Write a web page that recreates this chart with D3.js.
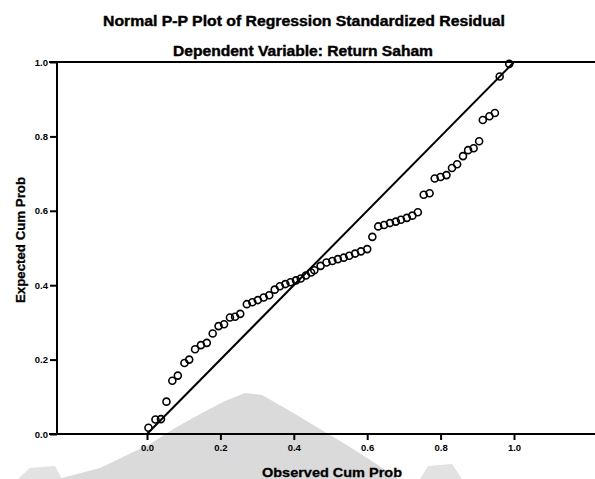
<!DOCTYPE html>
<html>
<head>
<meta charset="utf-8">
<script src="https://cdn.jsdelivr.net/npm/d3@7"></script>
<style>
  html, body { margin: 0; padding: 0; background: #fff; }
  svg { display: block; }
  text { font-family: "Liberation Sans", Arial, sans-serif; font-weight: bold; fill: #000; }
</style>
</head>
<body>
<svg id="chart" width="595" height="479"></svg>
<script>
// ---- Data ----
const titleLines = ["Normal P-P Plot of Regression Standardized Residual", "Dependent Variable: Return Saham"];
const xLabel = "Observed Cum Prob";
const yLabel = "Expected Cum Prob";
const xTicks = [0, 0.2, 0.4, 0.6, 0.8, 1.0];
const yTicks = [0, 0.2, 0.4, 0.6, 0.8, 1.0];
const observed = [0.004,0.023,0.038,0.053,0.069,0.084,0.102,0.115,0.131,0.147,0.163,0.179,0.195,0.210,0.226,0.240,0.254,0.272,0.287,0.302,0.318,0.333,0.348,0.362,0.377,0.391,0.406,0.419,0.433,0.447,0.456,0.473,0.489,0.505,0.520,0.536,0.551,0.567,0.583,0.600,0.614,0.630,0.646,0.662,0.678,0.692,0.708,0.723,0.738,0.754,0.770,0.784,0.800,0.816,0.831,0.845,0.861,0.875,0.890,0.905,0.915,0.933,0.948,0.961,0.987];
const expected = [0.017,0.039,0.040,0.087,0.143,0.157,0.191,0.200,0.228,0.239,0.245,0.270,0.290,0.295,0.313,0.315,0.323,0.349,0.354,0.360,0.367,0.373,0.388,0.397,0.403,0.408,0.413,0.418,0.426,0.434,0.440,0.452,0.461,0.465,0.470,0.474,0.479,0.485,0.491,0.497,0.530,0.558,0.562,0.567,0.571,0.576,0.581,0.587,0.596,0.643,0.647,0.687,0.691,0.696,0.715,0.725,0.747,0.763,0.768,0.787,0.844,0.854,0.863,0.961,0.995];

const svg = d3.select("#chart");

// scales
const x = d3.scaleLinear().domain([0, 1]).range([147, 514]);
const y = d3.scaleLinear().domain([0, 1]).range([434, 62]);
const plotLeft = 57, plotRight = 600;

// faint watermark shape behind the plot (scan background)
svg.append("path")
  .attr("d", "M58,479 L100,468 L150,444 L175,428 L200,414 L225,401 L245,393 L262,395 L290,411 L320,429 L350,447 L378,465 L398,479 Z")
  .attr("fill", "#dadada");
svg.append("path").attr("d", "M18,479 L30,468 L55,466 L62,479 Z").attr("fill", "#e2e2e2");
svg.append("path").attr("d", "M420,479 L428,466 L452,464 L462,479 Z").attr("fill", "#e2e2e2");

// titles
svg.append("text").attr("x", 304).attr("y", 26).attr("text-anchor", "middle")
  .attr("font-size", 14).attr("textLength", 402).attr("lengthAdjust", "spacingAndGlyphs")
  .attr("stroke", "#000").attr("stroke-width", 0.4)
  .text(titleLines[0]);
svg.append("text").attr("x", 303).attr("y", 56).attr("text-anchor", "middle")
  .attr("font-size", 14).attr("textLength", 260).attr("lengthAdjust", "spacingAndGlyphs")
  .attr("stroke", "#000").attr("stroke-width", 0.4)
  .text(titleLines[1]);

// frame lines
svg.append("line").attr("x1", 49).attr("x2", plotRight).attr("y1", y(1)).attr("y2", y(1))
  .attr("stroke", "#000").attr("stroke-width", 2);
svg.append("line").attr("x1", 49).attr("x2", plotRight).attr("y1", y(0)).attr("y2", y(0))
  .attr("stroke", "#000").attr("stroke-width", 2);
svg.append("line").attr("x1", plotLeft).attr("x2", plotLeft).attr("y1", y(1)).attr("y2", y(0))
  .attr("stroke", "#000").attr("stroke-width", 2);

// x axis
const gx = svg.append("g").attr("transform", `translate(0,${y(0)})`)
  .call(d3.axisBottom(x).tickValues(xTicks).tickFormat(d3.format(".1f")).tickSize(6).tickPadding(4));
gx.select(".domain").remove();
gx.selectAll("line").attr("stroke", "#000").attr("stroke-width", 2);
gx.selectAll("text").attr("font-size", 9.5).attr("font-family", "Liberation Sans, Arial, sans-serif").attr("font-weight", "bold");

// y axis
const gy = svg.append("g").attr("transform", `translate(${plotLeft},0)`)
  .call(d3.axisLeft(y).tickValues(yTicks).tickFormat(d3.format(".1f")).tickSize(7).tickPadding(2));
gy.select(".domain").remove();
gy.selectAll("line").attr("stroke", "#000").attr("stroke-width", 2);
gy.selectAll("text").attr("font-size", 9.5).attr("font-family", "Liberation Sans, Arial, sans-serif").attr("font-weight", "bold");

// axis titles
svg.append("text").attr("x", 332).attr("y", 477).attr("text-anchor", "middle")
  .attr("font-size", 13).attr("textLength", 140).attr("lengthAdjust", "spacingAndGlyphs")
  .attr("stroke", "#000").attr("stroke-width", 0.3)
  .text(xLabel);
svg.append("text").attr("transform", "translate(25,240) rotate(-90)").attr("text-anchor", "middle")
  .attr("font-size", 12.5).attr("textLength", 126).attr("lengthAdjust", "spacingAndGlyphs")
  .attr("stroke", "#000").attr("stroke-width", 0.3)
  .text(yLabel);

// diagonal reference line
svg.append("line")
  .attr("x1", x(0)).attr("y1", y(0)).attr("x2", x(1)).attr("y2", y(1))
  .attr("stroke", "#000").attr("stroke-width", 2);

// points
const pts = observed.map((o, i) => ({ o, e: expected[i] }));
svg.append("g").selectAll("circle").data(pts).join("circle")
  .attr("cx", d => x(d.o)).attr("cy", d => y(d.e)).attr("r", 3.5)
  .attr("fill", "none").attr("stroke", "#000").attr("stroke-width", 1.6);
</script>
</body>
</html>
